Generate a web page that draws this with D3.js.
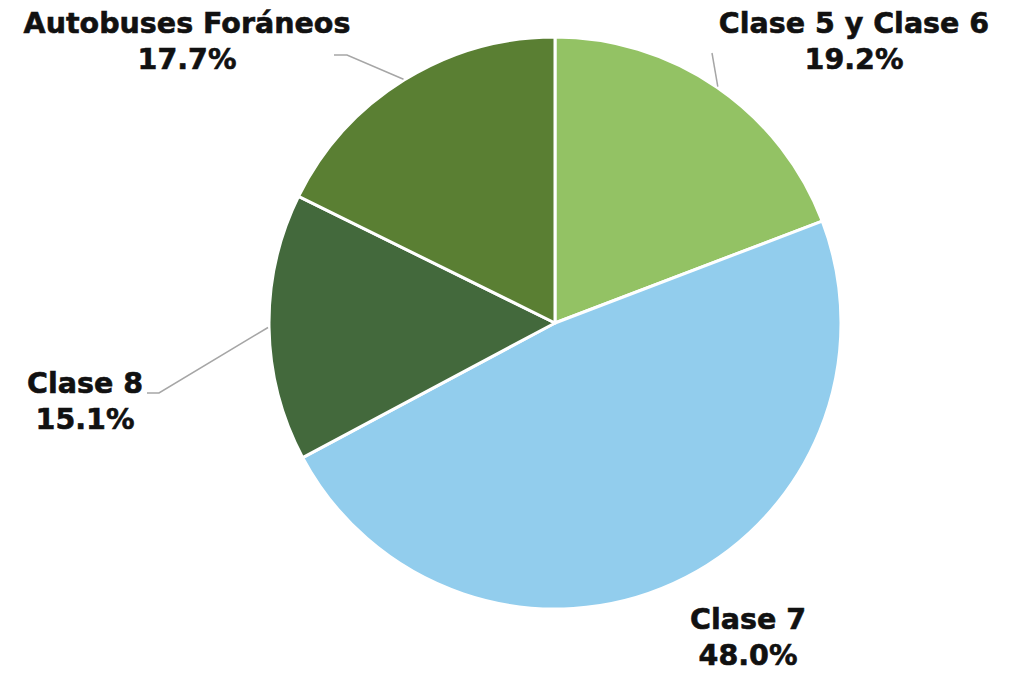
<!DOCTYPE html>
<html>
<head>
<meta charset="utf-8">
<script src="https://cdn.jsdelivr.net/npm/d3@7"></script>
<style>
  html, body { margin: 0; padding: 0; background: #fff; }
  svg { display: block; }
  .lbl { font-family: "DejaVu Sans", "Open Sans", sans-serif; font-weight: bold; font-size: 28.5px; fill: #111; stroke: #111; stroke-width: 0.6px; }
</style>
</head>
<body>
<svg id="chart" width="1017" height="673"></svg>
<script>
// Vehicle class shares (%), clockwise from 12 o'clock
const categories = ["Clase 5 y Clase 6", "Clase 7", "Clase 8", "Autobuses Foráneos"];
const shares = [19.2, 48.0, 15.1, 17.7];
const colors = ["#93c264", "#92cded", "#43693c", "#5a7f33"];

// Label anchors (center x, first baseline) and leader-line bends
const labelPos = [
  { x: 854, y: 33, line: [[712, 53]] },
  { x: 748, y: 629, line: null },
  { x: 85, y: 393, line: [[159, 393], [147, 393]] },
  { x: 187, y: 33, line: [[347, 55], [334, 55]] }
];

const W = 1017, H = 673;
const cx = 555, cy = 323, R = 286;

const svg = d3.select("#chart");
const g = svg.append("g").attr("transform", `translate(${cx},${cy})`);

const pie = d3.pie().sort(null).value(d => d.value);
const data = pie(categories.map((c, i) => ({ name: c, value: shares[i], color: colors[i] })));
const arc = d3.arc().innerRadius(0).outerRadius(R);

g.selectAll("path.slice")
  .data(data)
  .join("path")
  .attr("class", "slice")
  .attr("d", arc)
  .attr("fill", d => d.data.color)
  .attr("stroke", "#fff")
  .attr("stroke-width", 3)
  .attr("stroke-linejoin", "round");

// Leader lines from slice edge toward labels
const edgeArc = d3.arc().innerRadius(R + 1).outerRadius(R + 1);
data.forEach((d, i) => {
  const lp = labelPos[i];
  if (!lp.line) return;
  const [ex, ey] = edgeArc.centroid(d);
  const pts = [[ex + cx, ey + cy]].concat(lp.line);
  svg.append("path")
    .attr("d", d3.line()(pts))
    .attr("fill", "none")
    .attr("stroke", "#a6a6a6")
    .attr("stroke-width", 1.5);
});

// Labels: name and percentage
const fmt = d3.format(".1f");
data.forEach((d, i) => {
  const lp = labelPos[i];
  const t = svg.append("text")
    .attr("class", "lbl")
    .attr("text-anchor", "middle")
    .attr("x", lp.x)
    .attr("y", lp.y);
  t.append("tspan").attr("x", lp.x).text(d.data.name);
  t.append("tspan").attr("x", lp.x).attr("dy", 36).text(fmt(d.data.value) + "%");
});
</script>
</body>
</html>
